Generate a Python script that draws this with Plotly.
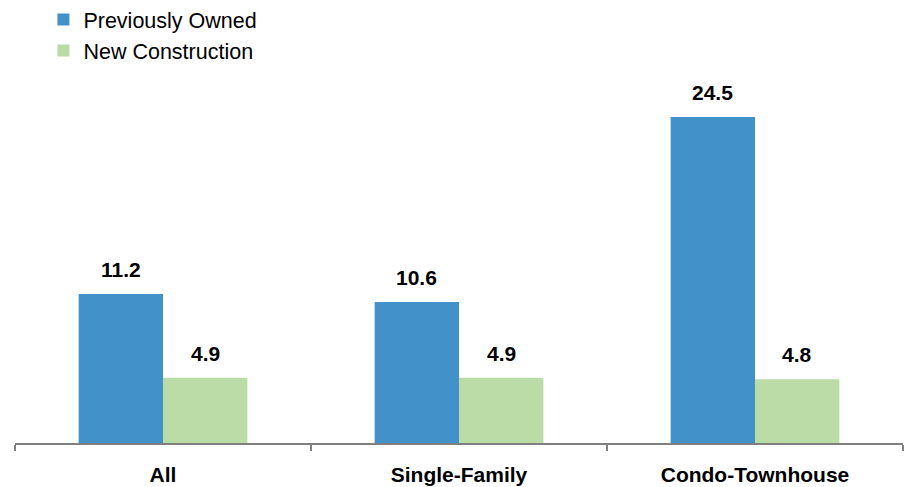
import plotly.graph_objects as go

categories = ["All", "Single-Family", "Condo-Townhouse"]
previously_owned = [11.2, 10.6, 24.5]
new_construction = [4.9, 4.9, 4.8]
series_names = ["Previously Owned", "New Construction"]
colors = ["#4391C9", "#BBDBA7"]

fig = go.Figure()
for name, vals, col in zip(series_names, [previously_owned, new_construction], colors):
    fig.add_trace(go.Bar(x=categories, y=vals, name=name, marker=dict(color=col, line=dict(width=0))))

bar_half = 888 / 3 * (1 - 0.43) / 2 / 2
for vals, shift in [(previously_owned, -bar_half), (new_construction, bar_half)]:
    for c, v in zip(categories, vals):
        fig.add_annotation(x=c, y=v, xref="x", yref="y", text=f"<b>{v:.1f}</b>",
                           showarrow=False, xshift=shift, yanchor="bottom", yshift=11,
                           font=dict(family="Liberation Sans, Arial", size=21, color="#000"))

fig.update_layout(
    width=906, height=487,
    margin=dict(l=15, r=3, t=70, b=44, autoexpand=False),
    plot_bgcolor="white", paper_bgcolor="white",
    barmode="group", bargap=0.43, bargroupgap=0,
    font=dict(family="Liberation Sans, Arial", color="#000"),
    legend=dict(x=0.032, y=1.19, xanchor="left", yanchor="top",
                font=dict(size=21.5), bgcolor="rgba(0,0,0,0)", tracegroupgap=0),
    showlegend=True,
)
fig.update_xaxes(type="category", showline=True, linecolor="#7f7f7f", linewidth=1.5,
                 automargin=False,
                 ticks="outside", tickson="boundaries", ticklen=6, tickcolor="#7f7f7f", tickwidth=1.5,
                 ticklabelstandoff=12,
                 tickfont=dict(size=21, family="Liberation Sans, Arial"),
                 tickvals=categories, ticktext=[f"<b>{c}</b>" for c in categories])
fig.update_yaxes(range=[0, 28.03], visible=False, showgrid=False, automargin=False)

fig.write_html("out.html")
